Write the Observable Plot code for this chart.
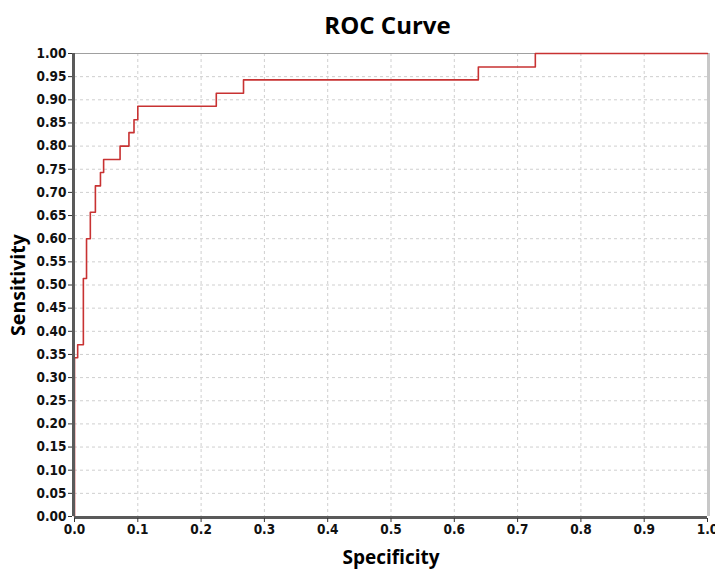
<!DOCTYPE html>
<html>
<head>
<meta charset="utf-8">
<script src="https://cdn.jsdelivr.net/npm/d3@7"></script>
<script src="https://cdn.jsdelivr.net/npm/@observablehq/plot@0.6"></script>
<style>
  html, body { margin: 0; padding: 0; background: #fff; }
  #wrap { position: relative; width: 715px; height: 569px; overflow: hidden; }
  #title { height: 42px; width: 715px; box-sizing: border-box; padding-left: 60px; text-align: center;
           font-family: "Open Sans", "Lato", sans-serif; font-weight: bold; font-size: 24px; line-height: 50px; color: #000; }
</style>
</head>
<body>
<div id="wrap">
  <div id="title">ROC Curve</div>
  <div id="chart"></div>
</div>
<script>
// ROC step points (x axis labeled "Specificity", y axis "Sensitivity")
const fpr = [0, 0, 0.005, 0.014, 0.019, 0.025, 0.033, 0.041, 0.046, 0.072, 0.086, 0.094, 0.100, 0.224, 0.267, 0.638, 0.728, 1.0];
const tpr = [0, 0.343, 0.371, 0.514, 0.600, 0.657, 0.714, 0.743, 0.771, 0.800, 0.829, 0.857, 0.886, 0.914, 0.943, 0.971, 1.0, 1.0];
const xTicks = [0, 0.1, 0.2, 0.3, 0.4, 0.5, 0.6, 0.7, 0.8, 0.9, 1.0];
const yTicks = [0, 0.05, 0.1, 0.15, 0.2, 0.25, 0.3, 0.35, 0.4, 0.45, 0.5, 0.55, 0.6, 0.65, 0.7, 0.75, 0.8, 0.85, 0.9, 0.95, 1.0];
const xLabel = "Specificity";
const yLabel = "Sensitivity";

const pts = fpr.map((x, i) => ({x, y: tpr[i]}));
const tickFont = '"Liberation Sans Narrow", "DejaVu Sans Condensed", "Liberation Sans", sans-serif';

const chart = Plot.plot({
  width: 715,
  height: 527,
  marginTop: 11,
  marginBottom: 53,
  marginLeft: 74,
  marginRight: 8,
  x: {domain: [0, 1], axis: null},
  y: {domain: [0, 1], axis: null},
  style: {fontFamily: tickFont, background: "#fff", overflow: "visible"},
  marks: [
    Plot.gridX(xTicks.slice(1, -1), {stroke: "#cfcfcf", strokeOpacity: 1, strokeDasharray: "3,3", strokeWidth: 1}),
    Plot.gridY(yTicks.slice(1, -1), {stroke: "#cfcfcf", strokeOpacity: 1, strokeDasharray: "3,3", strokeWidth: 1}),
    Plot.ruleY([1], {stroke: "#a0a0a0", strokeWidth: 1}),
    Plot.ruleX([1], {stroke: "#c8c8c8", strokeWidth: 3, dx: 1}),
    Plot.line(pts, {x: "x", y: "y", curve: "step-after", stroke: "#c83232", strokeWidth: 1.6}),
    Plot.ruleX([0], {stroke: "#5a5a5a", strokeWidth: 3, dx: -1}),
    Plot.ruleY([0], {stroke: "#5a5a5a", strokeWidth: 3, dy: 1}),
    Plot.axisY(yTicks, {tickSize: 4, tickPadding: 2, stroke: "#333", tickFormat: d => d.toFixed(2), fontSize: 13.5, fontWeight: "bold", fill: "#111", label: null, dx: -2}),
    Plot.axisX(xTicks, {tickSize: 4, tickPadding: 2, stroke: "#333", tickFormat: d => d.toFixed(1), fontSize: 13.5, fontWeight: "bold", fill: "#111", label: null, dy: 2}),
    Plot.text([yLabel], {frameAnchor: "left", textAnchor: "middle", dx: -56, rotate: -90, fontSize: 19.5, fontWeight: "bold", fontFamily: '"Open Sans", sans-serif', fill: "#000"}),
    Plot.text([xLabel], {frameAnchor: "bottom", dy: 47, fontSize: 19, fontWeight: "bold", fontFamily: '"Open Sans", sans-serif', fill: "#000"})
  ]
});
document.getElementById("chart").appendChild(chart);
</script>
</body>
</html>
